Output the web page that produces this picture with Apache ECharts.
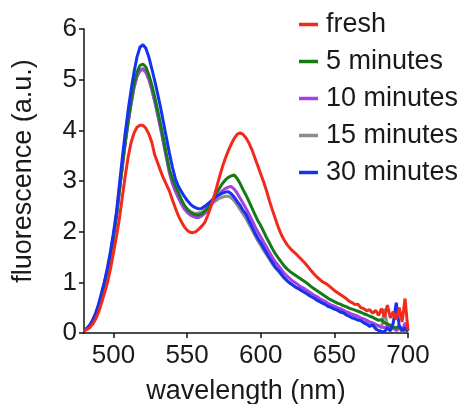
<!DOCTYPE html>
<html>
<head>
<meta charset="utf-8">
<script src="https://cdn.jsdelivr.net/npm/echarts@6/dist/echarts.min.js"></script>
<style>html,body{margin:0;padding:0;background:#fff;}#c{width:465px;height:404px;}</style>
</head>
<body>
<div id="c"></div>
<script>
const wavelengths = [480,482,484,486,488,490,492,494,496,498,500,502,504,506,508,510,512,514,516,518,520,522,524,526,528,530,532,534,536,538,540,542,544,546,548,550,552,554,556,558,560,562,564,566,568,570,572,574,576,578,580,582,584,586,588,590,592,594,596,598,600,602,604,606,608,610,612,614,616,618,620,622,624,626,628,630,632,634,636,638,640,642,644,646,648,650,652,654,656,658,660,662,664,666,668,670,672,674,676,678,680,682,684,686,688,690,692,694,696,698,700];

const seriesNames = ['fresh','5 minutes','10 minutes','15 minutes','30 minutes'];
const xTicks = [500,550,600,650,700];

const fresh = [0.04,0.07,0.11,0.18,0.28,0.42,0.60,0.80,1.00,1.27,1.58,1.90,2.25,2.68,3.10,3.48,3.76,3.95,4.06,4.10,4.10,4.04,3.93,3.77,3.52,3.36,3.20,3.05,2.93,2.80,2.63,2.47,2.32,2.20,2.10,2.03,1.99,1.98,2.00,2.05,2.11,2.18,2.32,2.48,2.67,2.87,3.08,3.28,3.45,3.60,3.73,3.84,3.92,3.95,3.92,3.85,3.75,3.62,3.46,3.30,3.14,2.98,2.80,2.60,2.42,2.25,2.08,1.94,1.83,1.74,1.67,1.61,1.56,1.50,1.44,1.38,1.31,1.24,1.17,1.11,1.06,1.01,0.98,0.94,0.89,0.84,0.80,0.76,0.72,0.68,0.63,0.60,0.56,0.57,0.50,0.48,0.44,0.46,0.39,0.45,0.35,0.48,0.32,0.55,0.30,0.42,0.26,0.50,0.22,0.68,0.05];

const min5 = [0.05,0.09,0.15,0.25,0.38,0.55,0.76,0.99,1.25,1.55,1.90,2.30,2.80,3.30,3.78,4.20,4.58,4.92,5.15,5.28,5.31,5.25,5.10,4.90,4.66,4.40,4.12,3.83,3.52,3.23,3.05,2.90,2.78,2.64,2.53,2.45,2.39,2.35,2.33,2.33,2.35,2.40,2.47,2.56,2.66,2.77,2.86,2.95,3.02,3.07,3.10,3.12,3.05,2.95,2.83,2.72,2.60,2.47,2.34,2.22,2.12,2.00,1.88,1.77,1.66,1.56,1.48,1.40,1.32,1.26,1.21,1.17,1.13,1.09,1.05,1.01,0.97,0.92,0.88,0.84,0.80,0.76,0.72,0.68,0.65,0.62,0.59,0.57,0.54,0.52,0.49,0.47,0.45,0.43,0.41,0.38,0.36,0.33,0.31,0.28,0.25,0.26,0.20,0.18,0.15,0.12,0.10,0.14,0.06,0.08,0.05];

const min10 = [0.05,0.09,0.15,0.25,0.38,0.55,0.76,0.99,1.25,1.55,1.90,2.30,2.78,3.27,3.74,4.15,4.52,4.85,5.07,5.19,5.22,5.16,5.02,4.82,4.58,4.32,4.04,3.75,3.45,3.16,2.95,2.80,2.67,2.55,2.45,2.38,2.33,2.30,2.28,2.28,2.31,2.36,2.44,2.52,2.60,2.68,2.75,2.81,2.85,2.88,2.89,2.84,2.76,2.66,2.56,2.46,2.35,2.23,2.11,2.00,1.90,1.79,1.69,1.59,1.49,1.40,1.33,1.25,1.18,1.12,1.07,1.02,0.98,0.94,0.90,0.87,0.83,0.79,0.75,0.72,0.68,0.65,0.62,0.58,0.55,0.53,0.50,0.48,0.45,0.42,0.40,0.37,0.35,0.33,0.30,0.28,0.25,0.22,0.20,0.17,0.14,0.12,0.10,0.14,0.07,0.10,0.05,0.12,0.04,0.20,0.05];

const min15 = [0.05,0.09,0.15,0.25,0.38,0.56,0.77,1.00,1.26,1.56,1.91,2.31,2.80,3.29,3.76,4.17,4.53,4.85,5.06,5.17,5.20,5.14,5.00,4.80,4.57,4.31,4.04,3.76,3.47,3.20,2.98,2.83,2.70,2.59,2.50,2.44,2.40,2.37,2.36,2.37,2.39,2.43,2.48,2.53,2.58,2.62,2.66,2.68,2.70,2.70,2.67,2.61,2.53,2.44,2.35,2.26,2.15,2.04,1.93,1.82,1.73,1.63,1.54,1.45,1.36,1.28,1.22,1.15,1.08,1.03,0.98,0.94,0.90,0.87,0.84,0.80,0.77,0.73,0.70,0.66,0.63,0.60,0.57,0.54,0.51,0.48,0.45,0.41,0.42,0.36,0.34,0.30,0.31,0.25,0.26,0.20,0.22,0.16,0.18,0.12,0.15,0.10,0.48,0.12,0.08,0.10,0.05,0.09,0.04,0.06,0.03];

const min30 = [0.05,0.09,0.16,0.26,0.40,0.58,0.80,1.03,1.30,1.62,1.98,2.38,2.92,3.45,3.95,4.40,4.80,5.15,5.45,5.64,5.69,5.62,5.45,5.22,4.98,4.72,4.45,4.15,3.85,3.55,3.28,3.05,2.90,2.80,2.70,2.62,2.55,2.50,2.47,2.45,2.46,2.50,2.55,2.60,2.65,2.70,2.73,2.76,2.78,2.79,2.75,2.68,2.60,2.52,2.42,2.34,2.22,2.10,1.98,1.87,1.78,1.68,1.58,1.48,1.39,1.30,1.24,1.16,1.09,1.03,0.98,0.94,0.90,0.87,0.83,0.80,0.76,0.72,0.69,0.65,0.62,0.59,0.56,0.52,0.50,0.47,0.45,0.42,0.40,0.36,0.33,0.30,0.28,0.26,0.24,0.20,0.17,0.13,0.16,0.08,0.05,0.03,0.02,0.10,0.04,0.20,0.60,0.15,0.05,0.10,0.03];

const values = [fresh, min5, min10, min15, min30];
const colors = ['#f22a1c','#157c15','#a640e6','#8c8c8c','#1432f0'];
const zs = [6,4,3,2,5];

const chart = echarts.init(document.getElementById('c'), null, {renderer:'canvas'});
const FONT = 'Liberation Sans, Arial, Helvetica, sans-serif';
const TXT = '#1a1a1a';

chart.setOption({
  animation: false,
  backgroundColor: '#fff',
  grid: {left: 84, right: 57, top: 29, bottom: 71, containLabel: false, outerBoundsMode: 'none'},
  legend: {
    orient: 'vertical', left: 294, top: 6,
    icon: 'rect', itemWidth: 19, itemHeight: 3.5, itemGap: 10,
    data: seriesNames,
    textStyle: {fontSize: 27, fontFamily: FONT, color: TXT, padding: [0,0,0,3]}
  },
  xAxis: {
    type: 'value', min: 480, max: 700,
    name: 'wavelength (nm)', nameLocation: 'middle', nameGap: 45,
    nameTextStyle: {fontSize: 27, fontFamily: FONT, color: TXT},
    axisLine: {lineStyle: {color: '#111', width: 1.5}},
    axisTick: {show: true, length: 5, lineStyle: {color: '#111', width: 1.5}, customValues: xTicks},
    axisLabel: {fontSize: 26, fontFamily: FONT, color: TXT, margin: 10, customValues: xTicks},
    splitLine: {show: false}
  },
  yAxis: {
    type: 'value', min: 0, max: 6, interval: 1,
    name: 'fluorescence (a.u.)', nameLocation: 'middle', nameGap: 47,
    nameTextStyle: {fontSize: 27, fontFamily: FONT, color: TXT, padding: [0,0,0,20]},
    axisLine: {show: true, lineStyle: {color: '#111', width: 1.5}},
    axisTick: {show: true, length: 5, lineStyle: {color: '#111', width: 1.5}},
    axisLabel: {fontSize: 26, fontFamily: FONT, color: TXT, margin: 7},
    splitLine: {show: false}
  },
  series: seriesNames.map((n, i) => ({
    name: n, type: 'line', z: zs[i],
    data: wavelengths.map((w, j) => [w, values[i][j]]),
    showSymbol: false, symbol: 'none', smooth: false,
    lineStyle: {color: colors[i], width: 3},
    itemStyle: {color: colors[i]}
  }))
});
</script>
</body>
</html>
